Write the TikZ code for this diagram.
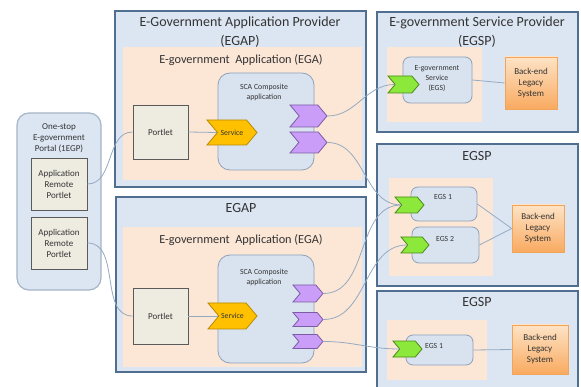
\documentclass[tikz,border=0pt]{standalone}
\usepackage{fontspec}
\setmainfont{Carlito}
\usetikzlibrary{shapes.symbols,fit,shadows}

\definecolor{provfill}{HTML}{DCE6F2}
\definecolor{provedge}{HTML}{4F6E90}
\definecolor{appfill}{HTML}{FCE6D6}
\definecolor{scafill}{HTML}{D9E3F0}
\definecolor{scaedge}{HTML}{8FA1B8}
\definecolor{portfill}{HTML}{EEECE1}
\definecolor{portedge}{HTML}{5A5A5A}
\definecolor{goldfill}{HTML}{FFC000}
\definecolor{goldedge}{HTML}{B78A00}
\definecolor{violetfill}{HTML}{C99DF8}
\definecolor{violetedge}{HTML}{7D5CA6}
\definecolor{limefill}{HTML}{8CE83A}
\definecolor{limeedge}{HTML}{4A8A1A}
\definecolor{legtop}{HTML}{FDE3C6}
\definecolor{legbot}{HTML}{F9AA60}
\definecolor{legedge}{HTML}{F2A55A}
\definecolor{wire}{HTML}{95AAC0}
\definecolor{ink}{HTML}{333333}

\tikzset{
  provider/.style={draw=provedge, line width=1.5pt, fill=provfill, inner sep=0pt},
  appzone/.style={fill=appfill, inner sep=0pt},
  composite/.style={draw=scaedge, line width=0.8pt, fill=scafill, rounded corners=12pt, inner sep=0pt},
  portal/.style={draw=scaedge!80, line width=1.2pt, fill=provfill, rounded corners=12pt, inner sep=0pt},
  egsbox/.style={draw=scaedge, line width=0.8pt, fill=scafill, rounded corners=7pt, inner sep=0pt},
  portlet/.style={draw=portedge, line width=0.9pt, fill=portfill, inner sep=0pt,
    drop shadow={opacity=0.35, shadow xshift=1pt, shadow yshift=-1pt}},
  legacy/.style={draw=legedge, line width=0.6pt, top color=legtop, bottom color=legbot, inner sep=0pt,
    drop shadow={opacity=0.25, shadow xshift=1pt, shadow yshift=-1pt}},
  chev/.style={signal, signal from=west, signal to=east, signal pointer angle=100,
    line width=0.8pt, inner sep=0pt, draw=#1edge, fill=#1fill},
  wire/.style={draw=wire, line width=0.8pt},
  title/.style={text=ink, align=center, font=\fontsize{14}{19}\selectfont},
  subtitle/.style={text=ink, font=\fontsize{12.3}{14}\selectfont},
  label/.style={text=ink, align=center, font=\fontsize{9}{11}\selectfont},
  tiny/.style={text=ink, align=center, font=\fontsize{7.8}{10}\selectfont}
}

\begin{document}
\begin{tikzpicture}[x=1pt,y=-1pt]
\useasboundingbox (0,0) rectangle (581,387);

% provider boxes
\node[provider, fit={(115,11) (366,187)}] (egapA) {};
\node[provider, fit={(116,197) (366,372)}] (egapB) {};
\node[provider, fit={(377,12) (578,132)}] (egspA) {};
\node[provider, fit={(377,144) (578,286)}] (egspB) {};
\node[provider, fit={(377,291) (578,400)}] (egspC) {};

% application areas
\node[appzone, fit={(123,47) (362,180)}] (egaA) {};
\node[appzone, fit={(123,227) (362,367)}] (egaB) {};
\node[appzone, fit={(387,47) (482,122)}] (egsZoneA) {};
\node[appzone, fit={(389,178) (493,276)}] (egsZoneB) {};
\node[appzone, fit={(387,320) (487,380)}] (egsZoneC) {};

% titles
\node[title] (tEgapA) at (240,32.5) {E-Government Application Provider\\(EGAP)};
\node[title] (tEgapB) at (241,208) {EGAP};
\node[title] (tEgspA) at (477,32) {E-government Service Provider\\(EGSP)};
\node[title] (tEgspB) at (477,156) {EGSP};
\node[title] (tEgspC) at (477,302) {EGSP};
\node[subtitle] (tEgaA) at (241,60) {E-government\ \ Application (EGA)};
\node[subtitle] (tEgaB) at (241,240) {E-government\ \ Application (EGA)};

% one-stop portal
\node[portal, fit={(17,113) (101,290)}] (egp) {};
\node[label] (tEgp) at (59,138) {One-stop\\E-government\\Portal (1EGP)};
\node[portlet, fit={(31,158) (87,210)}] (arp1) {};
\node[label] at (arp1.center) {Application\\Remote\\Portlet};
\node[portlet, fit={(31,217) (87,269)}] (arp2) {};
\node[label] at (arp2.center) {Application\\Remote\\Portlet};

% composite applications
\node[composite, fit={(218,73) (314,170)}] (scaA) {};
\node[tiny] (tScaA) at (264,92) {SCA Composite\\application};
\node[composite, fit={(218,255) (314,363)}] (scaB) {};
\node[tiny] (tScaB) at (264,277.5) {SCA Composite\\application};

\node[portlet, fit={(133,105) (188,159)}] (portA) {};
\node[label] at (portA.center) {Portlet};
\node[portlet, fit={(133,288) (188,344)}] (portB) {};
\node[label] at (portB.center) {Portlet};

\node[chev=gold, minimum width=50, minimum height=25, tiny] (servA) at (232,132.5) {Service};
\node[chev=gold, minimum width=49, minimum height=26, tiny] (servB) at (232.5,316) {Service};

\node[chev=violet, minimum width=37, minimum height=22] (refA1) at (308.5,116) {};
\node[chev=violet, minimum width=37, minimum height=21] (refA2) at (308.5,142.5) {};
\node[chev=violet, minimum width=30, minimum height=17] (refB1) at (308,293.5) {};
\node[chev=violet, minimum width=30, minimum height=14] (refB2) at (308,319.5) {};
\node[chev=violet, minimum width=30, minimum height=14] (refB3) at (308,341.5) {};

% e-government services
\node[egsbox, fit={(403,57) (472,103)}] (egsA) {};
\node[tiny] at (437,79) {E-government\\Service\\(EGS)};
\node[egsbox, fit={(411,187) (477,221)}] (egsB1) {};
\node[tiny] at (443,197) {EGS 1};
\node[egsbox, fit={(412,227) (479,263)}] (egsB2) {};
\node[tiny] at (445,239) {EGS 2};
\node[egsbox, fit={(406,335) (473,365)}] (egsC) {};
\node[tiny] at (434,346) {EGS 1};

\node[chev=lime, minimum width=31, minimum height=17] (gA) at (403.5,84.5) {};
\node[chev=lime, minimum width=29, minimum height=16] (gB1) at (409.5,205) {};
\node[chev=lime, minimum width=28, minimum height=16] (gB2) at (415,245) {};
\node[chev=lime, minimum width=29, minimum height=16] (gC) at (407.5,349) {};

% legacy systems
\node[legacy, fit={(505,57) (557,109)}] (beA) {};
\node[label] at (beA.center) {Back-end\\Legacy\\System};
\node[legacy, fit={(512,205) (564,252)}] (beB) {};
\node[label] at (beB.center) {Back-end\\Legacy\\System};
\node[legacy, fit={(512,325) (568,374)}] (beC) {};
\node[label] at (beC.center) {Back-end\\Legacy\\System};

% wires
\draw[wire] (arp1.east) to[out=0,in=180] (portA.west);
\draw[wire] (arp2.east) to[out=0,in=180] (portB.west);
\draw[wire] (portA.east) -- (servA.west);
\draw[wire] (portB.east) -- (servB.west);
\draw[wire] (refA1.east) to[out=0,in=180] (gA.west);
\draw[wire] (refA2.east) to[out=0,in=180] (gB1.west);
\draw[wire] (refB1.east) to[out=0,in=180] (gB1.west);
\draw[wire] (refB2.east) to[out=0,in=180] (gB2.west);
\draw[wire] (refB3.east) to[out=0,in=180] (gC.west);
\draw[wire] (egsA.east) -- (beA.west);
\draw[wire] (egsB1.east) -- (beB.west);
\draw[wire] (egsB2.east) -- (beB.west);
\draw[wire] (egsC.east) -- (beC.west);
\end{tikzpicture}
\end{document}
